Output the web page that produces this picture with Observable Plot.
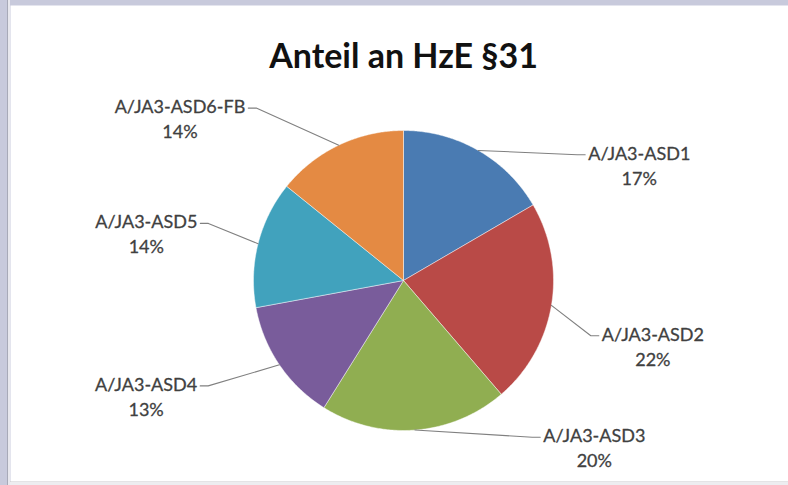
<!DOCTYPE html>
<html><head><meta charset="utf-8">
<script src="https://cdn.jsdelivr.net/npm/d3@7"></script>
<script src="https://cdn.jsdelivr.net/npm/@observablehq/plot@0.6"></script>
<style>
html,body{margin:0;padding:0;background:#c8cadc;overflow:hidden;}
#chart svg{display:block;}
</style></head><body><div id="chart"></div>
<script>
// ---- data ----
const title = "Anteil an HzE §31";
const categories = ["A/JA3-ASD1","A/JA3-ASD2","A/JA3-ASD3","A/JA3-ASD4","A/JA3-ASD5","A/JA3-ASD6-FB"];
const shares = [16.6, 22.1, 20.2, 13.2, 13.7, 14.2];
const colors = ["#4a7bb2","#b94a47","#90ae51","#795c9b","#41a2bd","#e48a43"];
// label leader end points (polar around pie centre: degrees clockwise from north, radius in px)
const leaderAngle = [55.3, 105.8, 138.9, 242.6, 285.7, 318];
const leaderRadius = [221, 203, 208, 229, 211, 232];

// ---- layout ----
const W = 788, H = 485;
const cx = 403, cy = 280, R = 150;           // pie centre (px) and radius
const mL = 10, mT = 5, mR = 0, mB = 4;
const labelFont = "Lato, sans-serif", labelSize = 18, lineH = 25;

const total = d3.sum(shares);
const rad = d => d * Math.PI / 180;
const polar = (deg, r) => ({x: r * Math.sin(rad(deg)), y: r * Math.cos(rad(deg))});

let acc = 0;
const polys = [], leaders = [], labels = [];
const ctx = document.createElement("canvas").getContext("2d");
ctx.font = `${labelSize}px ${labelFont}`;
categories.forEach((key, i) => {
  const a0 = acc / total * 360; acc += shares[i];
  const a1 = acc / total * 360;
  polys.push({key, x: 0, y: 0});
  const n = Math.max(2, Math.ceil((a1 - a0) / 0.5));
  for (let k = 0; k <= n; k++) {
    const p = polar(a0 + (a1 - a0) * k / n, R);
    polys.push({key, x: p.x, y: p.y});
  }
  polys.push({key, x: 0, y: 0});
  const mid = (a0 + a1) / 2;
  const e = polar(mid, R);
  const end = polar(leaderAngle[i], leaderRadius[i]);
  const side = end.x >= 0 ? 1 : -1;
  leaders.push({key, x: e.x, y: e.y});
  leaders.push({key, x: end.x - side * 8, y: end.y});
  leaders.push({key, x: end.x, y: end.y});
  const w = ctx.measureText(key).width;
  labels.push({
    key,
    text: key + "\n" + Math.round(shares[i] / total * 100) + "%",
    x: end.x + side * (3 + w / 2),
    y: end.y + 3 - lineH / 2
  });
});

const bg = "linear-gradient(to right, #c8cadc 7px, #a8aab8 7px, #a8aab8 8px, #e8e8ee 8px, #e8e8ee 10px, transparent 10px), " +
           "linear-gradient(to bottom, #c8cadc 481px, #c9c9cc 481px, #c9c9cc 482px, #ededf0 482px)";

const chart = Plot.plot({
  width: W, height: H,
  marginLeft: mL, marginTop: mT, marginRight: mR, marginBottom: mB,
  x: {domain: [mL - cx, W - mR - cx], axis: null},
  y: {domain: [cy - (H - mB), cy - mT], axis: null},
  color: {type: "ordinal", domain: categories, range: colors},
  style: `background: ${bg}; font-family: ${labelFont}; overflow: visible;`,
  marks: [
    Plot.frame({fill: "white", stroke: "none"}),
    Plot.line(polys, {x: "x", y: "y", z: "key", fill: "key", stroke: "#ffffff", strokeOpacity: 0.45, strokeWidth: 1, curve: "linear"}),
    Plot.line(leaders, {x: "x", y: "y", z: "key", stroke: "#808080", strokeWidth: 1.1}),
    Plot.text(labels, {x: "x", y: "y", text: "text", textAnchor: "middle", lineAnchor: "middle",
      lineHeight: lineH / labelSize, fontSize: labelSize, fill: "#404040", stroke: "#404040", strokeWidth: 0.3}),
    Plot.text([title], {frameAnchor: "top", dx: (cx - (mL + W - mR) / 2), dy: 52, lineAnchor: "middle",
      fontSize: 34, fontWeight: "bold", fill: "#111111"})
  ]
});
document.getElementById("chart").appendChild(chart);
</script>
</body></html>
